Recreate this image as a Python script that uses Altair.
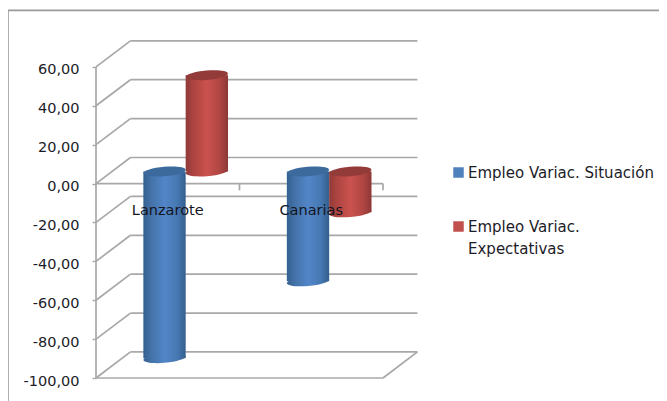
import altair as alt
import pandas as pd

categories = ["Lanzarote", "Canarias"]
situacion = [-96.0, -56.5]
expectativas = [49.5, -21.0]
series_names = ["Empleo Variac. Situación", "Empleo Variac. Expectativas"]
y_ticks = [60, 40, 20, 0, -20, -40, -60, -80, -100]

DX = 0.24      # wall depth, category units
DY = 13.4      # wall depth, value units
BAR = 0.295    # cylinder width, category units
GRID = "#a8a8a8"
FONT = "DejaVu Sans"
TEXT = "#1c1c28"

x_scale = alt.Scale(domain=[0, 2.244], range=[0, 322], nice=False, zero=False)
y_scale = alt.Scale(domain=[-100, 72.8], range=[336, 0], nice=False, zero=False)
y_axis = alt.Axis(
    values=y_ticks, title=None, domain=False, grid=False,
    tickSize=4, tickColor=GRID, tickWidth=1.4, labelPadding=13, labelOffset=3,
    labelFont=FONT, labelFontSize=14.5, labelColor=TEXT,
    labelExpr="replace(replace(format(datum.value, '.2f'), '.', ','), '\u2212', '-')",
)
Xe = lambda f: alt.X(f, scale=x_scale, axis=None)
Ye = lambda f: alt.Y(f, scale=y_scale, axis=y_axis)


def segs(rows, color=GRID, width=1.7):
    df = pd.DataFrame(rows, columns=["x", "x2", "y", "y2"])
    return alt.Chart(df).mark_rule(color=color, strokeWidth=width, clip=False).encode(
        x=Xe("x:Q"), x2="x2:Q", y=Ye("y:Q"), y2="y2:Q",
    )


back = [(DX, 2 + DX, v + DY, v + DY) for v in y_ticks]
side = [(0, DX, v, v + DY) for v in y_ticks]
floor = [(0, 2, -100, -100), (2, 2 + DX, -100, -100 + DY)]
zero = [(0, 2, 0, 0), (1, 1, 0, -3.5), (2, 2, 0, -3.5)]
yline = [(0, 0, -100, 60)]

# frame, extrapolated through the same scales
fx0, fx1 = (8 - 96) / 143.5, (667 - 96) / 143.5
fy0, fy1 = -100 - (401 - 378) / 1.944, -100 + (378 - 10.5) / 1.944
frame = segs(
    [(fx0, fx1, fy1, fy1), (fx0, fx0, fy1, fy0)],
    color="#9a9a9a", width=1.6,
)


def grad(stops):
    return alt.Gradient(
        gradient="linear", x1=0, x2=1, y1=0, y2=0,
        stops=[alt.GradientStop(offset=o, color=c) for o, c in stops],
    )


BLUE = grad([(0, "#34608f"), (0.18, "#4472a8"), (0.5, "#5286c8"), (0.8, "#4678b2"), (1, "#345f8e")])
RED = grad([(0, "#8f3a38"), (0.18, "#ac4441"), (0.5, "#cb524e"), (0.8, "#b04643"), (1, "#8c3836")])
ELL = "M -1 0 A 1 0.22 0 1 1 1 0 A 1 0.22 0 1 1 -1 0 Z"


def cylinder(vals, side_offset, body, top):
    df = pd.DataFrame({"cat": categories, "v": vals})
    df["cx"] = [i + 0.5 + DX / 2 + side_offset + 0.005 for i in range(len(df))]
    df["x0"] = df.cx - BAR / 2
    df["x1"] = df.cx + BAR / 2
    df["base"] = DY / 2 - 0.5
    df["end"] = df.v + DY / 2 - 0.5
    df["hi"] = df[["base", "end"]].max(axis=1)
    df["lo"] = df[["base", "end"]].min(axis=1)
    size = (BAR * 143.5) ** 2
    low = alt.Chart(df).mark_point(shape=ELL, filled=True, size=size, angle=355, opacity=1, fill=body).encode(x=Xe("cx:Q"), y=Ye("lo:Q"))
    mid = alt.Chart(df).mark_bar(fill=body).encode(x=Xe("x0:Q"), x2="x1:Q", y=Ye("lo:Q"), y2="hi:Q")
    up = alt.Chart(df).mark_point(shape=ELL, filled=True, size=size, angle=355, opacity=1, fill=top).encode(x=Xe("cx:Q"), y=Ye("hi:Q"))
    return low + mid + up


blue = cylinder(situacion, -BAR / 2, BLUE, "#3d6a9c")
red = cylinder(expectativas, BAR / 2, RED, "#933b39")

labels = alt.Chart(pd.DataFrame({"cat": categories, "x": [0.5, 1.5], "y": [-13.9, -13.9]})).mark_text(
    font=FONT, fontSize=14.5, color="#15151f"
).encode(x=Xe("x:Q"), y=Ye("y:Q"), text="cat:N")

legend_src = alt.Chart(pd.DataFrame({"s": series_names, "x": [0, 0], "y": [0, 0]})).mark_point(
    filled=True, size=0, shape="square"
).encode(
    x=Xe("x:Q"),
    y=Ye("y:Q"),
    color=alt.Color(
        "s:N",
        sort=series_names,
        scale=alt.Scale(domain=series_names, range=["#4f81bd", "#c0504d"]),
        legend=alt.Legend(
            title=None, orient="none", legendX=355, legendY=123,
            symbolType="square", symbolSize=110, symbolStrokeWidth=0, symbolOpacity=1,
            labelFont=FONT, labelFontSize=15, labelColor=TEXT, labelLimit=230,
            labelOffset=2, rowPadding=38,
            labelExpr="datum.label == 'Empleo Variac. Expectativas' ? ['Empleo Variac.', 'Expectativas'] : datum.label",
        ),
    ),
)

chart = alt.layer(
    frame, segs(back), segs(side), segs(floor), segs(zero), segs(yline),
    blue, red, labels, legend_src,
).properties(
    width=322, height=336,
    autosize=alt.AutoSizeParams(type="none"),
    padding={"left": 88, "top": 34, "right": 241, "bottom": 23},
    background="white",
).configure(view=alt.ViewConfig(stroke=None), style={"guide-label": {"lineHeight": 22}})

chart.save("out.html", embed_options={"renderer": "svg", "actions": False})
